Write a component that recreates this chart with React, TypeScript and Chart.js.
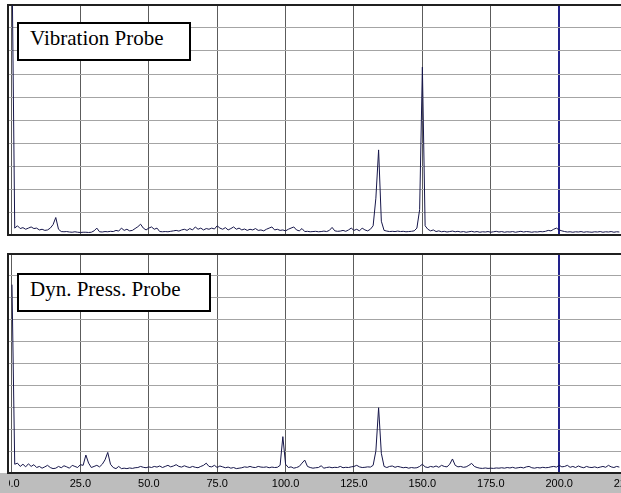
import React, { useEffect, useRef } from 'react';
import { Chart, registerables } from 'chart.js';

Chart.register(...registerables);

// ---- data ----
const FREQ_START = 0;
const FREQ_STEP = 1;
const GRID_FREQS = [0, 25, 50, 75, 100, 125, 150, 175, 200, 225];
const MARKER_FREQ = 200;
const X_MIN = -1.46;
const X_MAX = 222.6;
const Y_MIN = 0;
const Y_MAX = 10;
const PANEL_TITLES = ['Vibration Probe', 'Dyn. Press. Probe'];

const vibrationValues = [
  12, 0.3, 0.4, 0.28, 0.32, 0.25, 0.3, 0.35, 0.28, 0.3,
  0.22, 0.25, 0.2, 0.22, 0.3, 0.45, 0.76, 0.25, 0.15, 0.14,
  0.15, 0.13, 0.12, 0.14, 0.12, 0.11, 0.12, 0.12, 0.11, 0.12,
  0.18, 0.3, 0.14, 0.13, 0.15, 0.14, 0.16, 0.15, 0.2, 0.17,
  0.3, 0.2, 0.25, 0.18, 0.2, 0.28, 0.36, 0.47, 0.3, 0.22,
  0.3, 0.35, 0.25, 0.3, 0.15, 0.14, 0.15, 0.14, 0.16, 0.18,
  0.2, 0.17, 0.22, 0.25, 0.2, 0.28, 0.22, 0.35, 0.25, 0.3,
  0.22, 0.28, 0.25, 0.3, 0.26, 0.4, 0.3, 0.25, 0.32, 0.22,
  0.28, 0.35, 0.25, 0.3, 0.22, 0.26, 0.2, 0.25, 0.22, 0.28,
  0.2, 0.22, 0.18, 0.25, 0.3, 0.35, 0.22, 0.25, 0.2, 0.22,
  0.18, 0.25, 0.3, 0.35, 0.22, 0.18, 0.28, 0.15, 0.16, 0.14,
  0.15, 0.16, 0.14, 0.15, 0.17, 0.15, 0.2, 0.33, 0.18, 0.16,
  0.17, 0.2, 0.16, 0.22, 0.3, 0.2, 0.25, 0.18, 0.3, 0.22,
  0.18, 0.25, 0.4, 1.6, 3.7, 0.6, 0.2, 0.17, 0.15, 0.16,
  0.15, 0.17, 0.15, 0.16, 0.14, 0.15, 0.16, 0.18, 0.3, 1.1,
  7.3, 0.4, 0.25, 0.18, 0.22, 0.15, 0.18, 0.14, 0.16, 0.13,
  0.15, 0.17, 0.14, 0.16, 0.13, 0.15, 0.12, 0.14, 0.16, 0.13,
  0.15, 0.12, 0.14, 0.13, 0.15, 0.12, 0.14, 0.16, 0.13, 0.15,
  0.12, 0.14, 0.13, 0.15, 0.12, 0.14, 0.16, 0.13, 0.15, 0.14,
  0.12, 0.14, 0.13, 0.15, 0.14, 0.16, 0.2, 0.18, 0.25, 0.3,
  0.22, 0.18, 0.15, 0.13, 0.14, 0.12, 0.14, 0.13, 0.15, 0.12,
  0.14, 0.13, 0.12, 0.14, 0.13, 0.15, 0.12, 0.14, 0.13, 0.15,
  0.12, 0.14, 0.13,
];

const pressureValues = [
  8.6, 0.4, 0.45, 0.3, 0.4, 0.28, 0.42, 0.3, 0.38, 0.25,
  0.3, 0.22, 0.28, 0.35, 0.25, 0.2, 0.22, 0.3, 0.24, 0.33,
  0.28, 0.22, 0.35, 0.3, 0.25, 0.38, 0.35, 0.82, 0.45, 0.25,
  0.3, 0.35, 0.28, 0.4, 0.6, 0.94, 0.4, 0.25, 0.2, 0.3,
  0.2, 0.22, 0.2, 0.23, 0.21, 0.24, 0.25, 0.3, 0.26, 0.24,
  0.28, 0.25, 0.3, 0.27, 0.32, 0.25, 0.3, 0.35, 0.28, 0.32,
  0.38, 0.3, 0.27, 0.33, 0.28, 0.25, 0.3, 0.26, 0.24, 0.3,
  0.35, 0.45, 0.3, 0.28, 0.35, 0.25, 0.32, 0.28, 0.24, 0.27,
  0.22, 0.25, 0.2, 0.22, 0.24, 0.28, 0.26, 0.3, 0.26, 0.25,
  0.3, 0.27, 0.26, 0.28, 0.24, 0.27, 0.25, 0.26, 0.35, 1.66,
  0.4, 0.25, 0.28, 0.22, 0.25, 0.3, 0.45, 0.59, 0.3, 0.25,
  0.22, 0.24, 0.25, 0.33, 0.22, 0.25, 0.27, 0.24, 0.26, 0.25,
  0.3, 0.24, 0.26, 0.25, 0.28, 0.3, 0.35, 0.28, 0.25, 0.26,
  0.28, 0.27, 0.35, 1.0, 2.98, 0.9, 0.3, 0.25, 0.3, 0.32,
  0.26, 0.3, 0.27, 0.24, 0.26, 0.22, 0.25, 0.23, 0.24, 0.3,
  0.4, 0.28, 0.25, 0.3, 0.27, 0.32, 0.26, 0.35, 0.3, 0.28,
  0.4, 0.64, 0.35, 0.28, 0.3, 0.26, 0.28, 0.35, 0.44, 0.3,
  0.25, 0.22, 0.21, 0.23, 0.21, 0.22, 0.21, 0.23, 0.22, 0.24,
  0.22, 0.25, 0.23, 0.26, 0.22, 0.24, 0.26, 0.23, 0.28, 0.3,
  0.24, 0.22, 0.25, 0.23, 0.26, 0.24, 0.25, 0.28, 0.3, 0.27,
  0.35, 0.28, 0.3, 0.35, 0.26, 0.3, 0.25, 0.32, 0.27, 0.24,
  0.3, 0.26, 0.25, 0.28, 0.24, 0.27, 0.3, 0.26, 0.35, 0.28,
  0.25, 0.3, 0.27,
];

// ---- styling ----
const LINE_COLOR = '#16164a';
const MARKER_COLOR = '#22228c';
const VGRID_COLOR = '#5c5c5c';
const HGRID_COLOR = '#a4a4a4';
const FRAME_COLOR = '#202020';
const BAND_COLOR = '#bdbdbd';

const bandPlugin = {
  id: 'axisBand',
  beforeDraw(chart: any) {
    const { ctx, chartArea, width, height } = chart;
    ctx.save();
    ctx.fillStyle = BAND_COLOR;
    ctx.fillRect(0, chartArea.bottom, width, height - chartArea.bottom);
    ctx.restore();
    ctx.save();
    ctx.beginPath();
    ctx.rect(0, 0, width, chartArea.bottom + 2);
    ctx.rect(9, chartArea.bottom + 2, width - 9, height);
    ctx.clip();
  },
  afterDraw(chart: any) {
    chart.ctx.restore();
  },
};

type PanelProps = {
  values: number[];
  width: number;
  height: number;
  padTop: number;
  padBottom: number;
  showLabels: boolean;
};

function Panel({ values, width, height, padTop, padBottom, showLabels }: PanelProps) {
  const ref = useRef<HTMLCanvasElement | null>(null);
  useEffect(() => {
    if (!ref.current) return;
    const points = values.map((v, i) => ({ x: FREQ_START + i * FREQ_STEP, y: v }));
    const chart = new Chart(ref.current, {
      type: 'line',
      data: {
        datasets: [
          {
            data: points,
            borderColor: LINE_COLOR,
            borderWidth: 1,
            pointRadius: 0,
            tension: 0,
            fill: false,
          },
        ],
      },
      options: {
        animation: false,
        responsive: false,
        events: [],
        layout: { padding: { left: 8, right: 0, top: padTop, bottom: padBottom } },
        plugins: { legend: { display: false }, tooltip: { enabled: false }, title: { display: false } },
        scales: {
          x: {
            type: 'linear',
            min: X_MIN,
            max: X_MAX,
            afterBuildTicks: (scale: any) => {
              scale.ticks = GRID_FREQS.map((v) => ({ value: v }));
            },
            afterFit: (scale: any) => {
              scale.paddingLeft = 0;
              scale.paddingRight = 0;
              if (showLabels) scale.height = 20;
            },
            ticks: {
              display: showLabels,
              autoSkip: false,
              maxRotation: 0,
              minRotation: 0,
              padding: 4,
              color: '#000',
              font: { family: '"Liberation Sans", Arial, sans-serif', size: 11 },
              callback: (value: any) => Number(value).toFixed(1),
            },
            grid: {
              drawTicks: false,
              color: (ctx: any) => (ctx.tick && ctx.tick.value === MARKER_FREQ ? MARKER_COLOR : VGRID_COLOR),
              lineWidth: (ctx: any) => (ctx.tick && ctx.tick.value === MARKER_FREQ ? 2 : 1),
            },
            border: { display: true, color: FRAME_COLOR, width: 2 },
          },
          y: {
            type: 'linear',
            min: Y_MIN,
            max: Y_MAX,
            ticks: { display: false, stepSize: 1 },
            grid: {
              drawTicks: false,
              color: (ctx: any) => (ctx.tick && ctx.tick.value === Y_MAX ? FRAME_COLOR : HGRID_COLOR),
              lineWidth: (ctx: any) => (ctx.tick && ctx.tick.value === Y_MAX ? 2 : 1),
            },
            border: { display: true, color: FRAME_COLOR, width: 2 },
          },
        },
      } as any,
      plugins: showLabels ? [bandPlugin] : [],
    });
    return () => chart.destroy();
  }, [values, width, height, padTop, padBottom, showLabels]);
  return <canvas ref={ref} width={width} height={height} style={{ display: 'block', width, height }} />;
}

const boxStyle: React.CSSProperties = {
  position: 'absolute',
  boxSizing: 'border-box',
  height: 39,
  border: '2px solid #000',
  background: '#fff',
  paddingLeft: 11,
  paddingTop: 3,
  fontFamily: '"Liberation Serif", "Times New Roman", serif',
  fontSize: 21,
  lineHeight: '23px',
  color: '#000',
  whiteSpace: 'nowrap',
};

export default function App() {
  return (
    <div style={{ position: 'absolute', left: 0, top: 0, width: 621, height: 493, background: '#fff', overflow: 'hidden' }}>
      <div style={{ position: 'absolute', left: 0, top: 0 }}>
        <Panel values={vibrationValues} width={621} height={240} padTop={5} padBottom={5} showLabels={false} />
      </div>
      <div style={{ position: 'absolute', left: 0, top: 240 }}>
        <Panel values={pressureValues} width={621} height={253} padTop={14} padBottom={0} showLabels={true} />
      </div>
      <div style={{ ...boxStyle, left: 17, top: 22, width: 174 }}>{PANEL_TITLES[0]}</div>
      <div style={{ ...boxStyle, left: 17, top: 273, width: 194 }}>{PANEL_TITLES[1]}</div>
    </div>
  );
}
